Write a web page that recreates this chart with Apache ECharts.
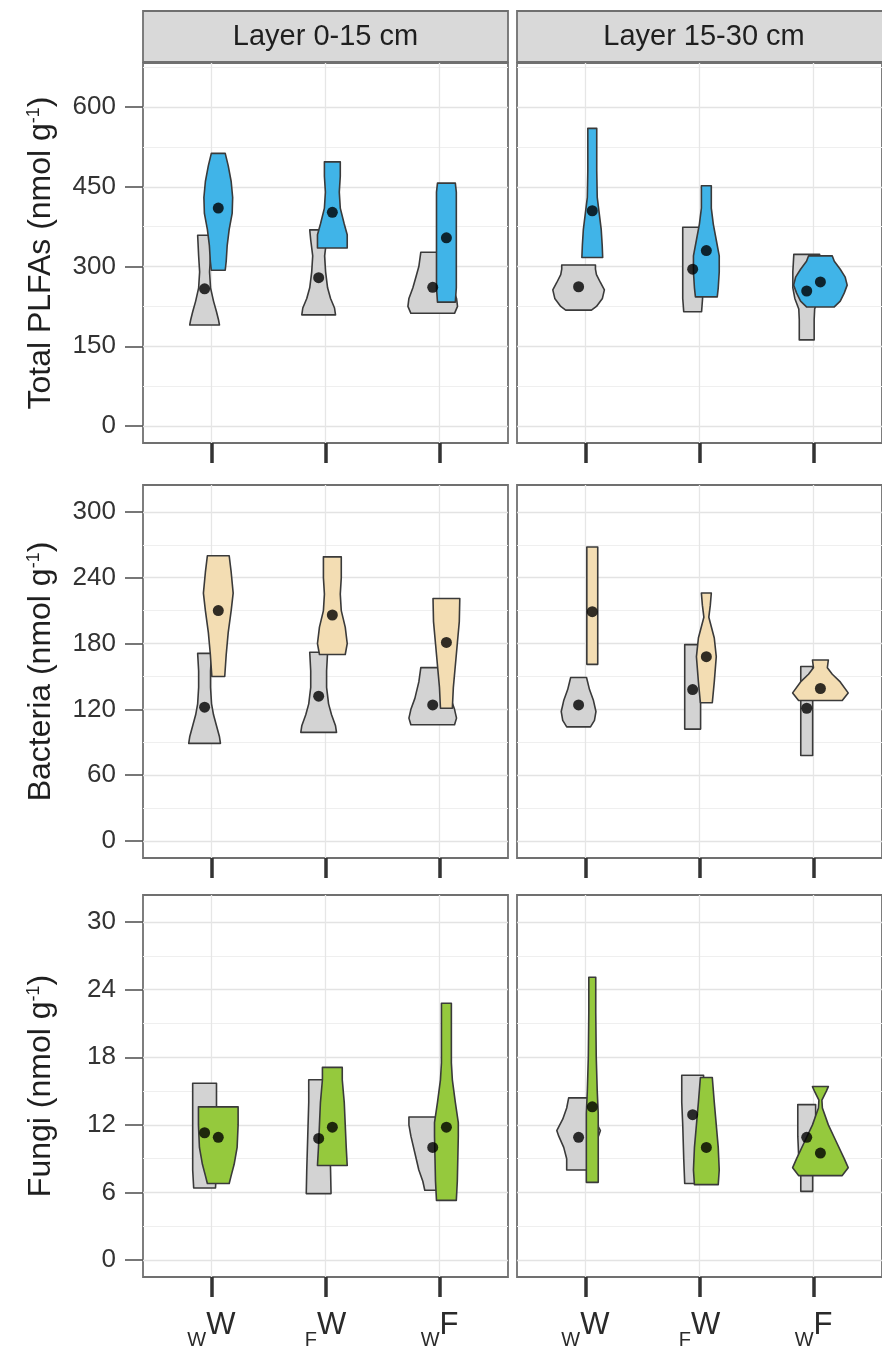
<!DOCTYPE html>
<html><head><meta charset="utf-8">
<script src="https://cdn.jsdelivr.net/npm/echarts@6/dist/echarts.min.js"></script>
<style>html,body{margin:0;padding:0;background:#fff}#c{width:882px;height:1354px}</style>
</head><body><div id="c"></div>
<script>
// ---- categories / labels ----
const catSub = ['W', 'F', 'W'];
const catMain = ['W', 'W', 'F'];
const layers = ['Layer 0-15 cm', 'Layer 15-30 cm'];
const yTitles = ['Total PLFAs (nmol g', 'Bacteria (nmol g', 'Fungi (nmol g'];
const plfaTicks = [0, 150, 300, 450, 600];
const plfaMinor = [75, 225, 375, 525, 675];
const bactTicks = [0, 60, 120, 180, 240, 300];
const bactMinor = [30, 90, 150, 210, 270];
const fungiTicks = [0, 6, 12, 18, 24, 30];
const fungiMinor = [3, 9, 15, 21, 27];

// ---- violin profiles: [value, relative half-width (density)] per category ----
// Total PLFAs, layer 0-15
const plfa015Gray = [
  [[190,15],[200,14],[215,12],[235,9],[260,6],[290,5],[320,6],[359,7]],
  [[209,17],[222,16],[240,12],[260,9],[290,7],[320,6],[350,8],[369,9]],
  [[212,22],[225,25],[240,24],[260,20],[280,17],[300,14],[327,12]]
];
const plfa015Col = [
  [[293,7],[310,8],[340,9],[370,11],[400,14],[430,14.5],[460,13],[490,10],[513,7]],
  [[335,15],[360,15],[380,12],[410,8],[440,7],[470,8],[497,8]],
  [[233,9],[260,10],[300,10],[350,10],[400,10],[440,10],[457,9]]
];
const plfa015GrayMean = [258, 279, 261];
const plfa015ColMean = [410, 402, 354];
// Total PLFAs, layer 15-30
const plfa1530Gray = [
  [[218,13],[225,18],[240,24],[256,26],[270,22],[285,18],[295,17],[303,17]],
  [[215,9],[240,10],[280,10],[320,10],[350,10],[374,10]],
  [[162,7.5],[200,7.5],[220,8],[240,12],[260,14],[290,14],[323,13]]
];
const plfa1530Col = [
  [[317,10.5],[340,10],[370,9],[400,7],[430,5],[480,4.5],[520,4.5],[560,4.5]],
  [[243,11],[260,12],[290,13],[320,13],[350,10],[380,7],[410,5],[452,5]],
  [[224,14],[235,20],[250,24],[265,27],[280,25],[295,20],[310,14],[320,12]]
];
const plfa1530GrayMean = [262, 295, 254];
const plfa1530ColMean = [405, 330, 271];
// Bacteria, layer 0-15
const bact015Gray = [
  [[89,16],[95,15],[105,12],[115,9],[125,7],[140,6],[155,6],[171,7]],
  [[99,18],[105,17],[115,13],[125,10],[140,8],[155,8],[172,9]],
  [[106,22],[112,24],[120,22],[130,18],[145,14],[158,12]]
];
const bact015Col = [
  [[150,6.5],[170,8],[190,10],[210,13],[226,15],[245,13],[260,11]],
  [[170,13],[180,15],[195,13],[210,9],[225,8],[240,9],[259,9]],
  [[121,6],[140,7],[160,9],[180,11],[200,13],[221,13.5]]
];
const bact015GrayMean = [122, 132, 124];
const bact015ColMean = [210, 206, 181];
// Bacteria, layer 15-30
const bact1530Gray = [
  [[104,12],[110,16],[118,17.5],[128,15],[138,11],[149,8]],
  [[102,8],[130,8],[160,8],[179,8]],
  [[78,6],[110,6],[140,6],[159,6]]
];
const bact1530Col = [
  [[161,5.5],[200,5.5],[240,5.5],[268,5.5]],
  [[126,6],[145,8],[168,10],[185,8],[204,2.5],[215,4],[226,5]],
  [[128,22],[135,28],[145,20],[152,12],[158,7],[165,8]]
];
const bact1530GrayMean = [124, 138, 121];
const bact1530ColMean = [209, 168, 139];
// Fungi, layer 0-15
const fungi015Gray = [
  [[6.4,11],[8,12],[12,12],[15.7,12]],
  [[5.9,12.5],[8,12],[11,11],[14,10],[16,10]],
  [[6.2,8],[7,10],[8,14],[9.5,18],[11,22],[12,24],[12.7,24]]
];
const fungi015Col = [
  [[6.8,11],[7.5,13],[8.5,16],[10,19],[12,20],[13.6,20]],
  [[8.4,15],[10,14],[12,13],[14,12],[16,10],[17.1,10]],
  [[5.3,10],[7,11],[9,11.5],[11,12],[12.2,12],[14,9],[16,6],[17.5,5],[20,5],[22.8,5]]
];
const fungi015GrayMean = [11.3, 10.8, 10.0];
const fungi015ColMean = [10.9, 11.8, 11.8];
// Fungi, layer 15-30
const fungi1530Gray = [
  [[8,12],[9,12],[10,15],[11,20],[11.5,22],[12.5,16],[13.5,12],[14.4,10]],
  [[6.8,8],[9,9],[12,10],[14,11],[16.4,11]],
  [[6.1,6],[7.5,6],[9,8],[11,9],[13.8,9]]
];
const fungi1530Col = [
  [[6.9,6],[10,6],[13,6],[15,5],[18,4],[22,3.5],[25.1,3.5]],
  [[6.7,12],[8,13],[10,12],[12,10],[14,8],[16.2,6]],
  [[7.5,22],[8.2,28],[9,24],[10.5,16],[12,8],[13.5,2],[14.2,1.5],[15,6],[15.4,8]]
];
const fungi1530GrayMean = [10.9, 12.9, 10.9];
const fungi1530ColMean = [13.6, 10.0, 9.5];

// ---- layout / style ----
const FONT = 'Liberation Sans, Arial, Helvetica, sans-serif';
const DENS = 115;      // density units per category step
const DODGE = 0.06;
const GRAY = '#d3d3d3';
const rowColors = ['#40b4e8', '#f3ddb3', '#95c93d'];
const colsX = [{left: 143, width: 365}, {left: 517, width: 374}];
const rowsY = [{top: 63, height: 380}, {top: 485, height: 373}, {top: 895, height: 382}];
const yRanges = [[-32, 683], [-15.5, 324.5], [-1.5, 32.4]];
const majorT = [plfaTicks, bactTicks, fungiTicks];
const minorT = [plfaMinor, bactMinor, fungiMinor];
const panels = [
  [[plfa015Gray, plfa015Col, plfa015GrayMean, plfa015ColMean], [plfa1530Gray, plfa1530Col, plfa1530GrayMean, plfa1530ColMean]],
  [[bact015Gray, bact015Col, bact015GrayMean, bact015ColMean], [bact1530Gray, bact1530Col, bact1530GrayMean, bact1530ColMean]],
  [[fungi015Gray, fungi015Col, fungi015GrayMean, fungi015ColMean], [fungi1530Gray, fungi1530Col, fungi1530GrayMean, fungi1530ColMean]]
];

const grid = [], xAxis = [], yAxis = [], series = [];
for (let r = 0; r < 3; r++) {
  for (let c = 0; c < 2; c++) {
    const g = r * 2 + c;
    grid.push({left: colsX[c].left, width: colsX[c].width, top: rowsY[r].top, height: rowsY[r].height,
      show: true, backgroundColor: '#fff', borderColor: '#707070', borderWidth: 1.8});
    xAxis.push({
      gridIndex: g, type: 'value', min: 0.4, max: 3.6, position: 'bottom',
      axisLine: {show: false, onZero: false},
      axisTick: {show: true, inside: false, customValues: [1, 2, 3], length: 20, lineStyle: {color: '#333', width: 3.5}},
      axisLabel: {show: r === 2, customValues: [1, 2, 3], margin: 33,
        formatter: v => '{sub|' + catSub[Math.round(v) - 1] + '}{main|' + catMain[Math.round(v) - 1] + '}',
        rich: {
          main: {fontSize: 31, fontFamily: FONT, color: '#2a2a2a', lineHeight: 31, verticalAlign: 'top'},
          sub: {fontSize: 20, fontFamily: FONT, color: '#2a2a2a', lineHeight: 20, padding: [20, 0, 0, 0], verticalAlign: 'top'}
        }},
      splitLine: {show: true, lineStyle: {color: '#e6e6e6', width: 1.3}}
    });
    yAxis.push({
      gridIndex: g, type: 'value', min: yRanges[r][0], max: yRanges[r][1],
      axisLine: {show: false, onZero: false},
      axisTick: {show: c === 0, customValues: majorT[r], length: 18, lineStyle: {color: '#555', width: 1.6}},
      axisLabel: {show: c === 0, customValues: majorT[r], margin: 27, fontSize: 26, fontFamily: FONT, color: '#333'},
      splitLine: {show: true, lineStyle: {color: '#e3e3e3', width: 1.4}},
      name: c === 0 ? '{a|' + yTitles[r] + '}{s|-1}{a|)}' : '',
      nameLocation: 'middle', nameRotate: 90, nameGap: 86,
      nameTextStyle: {rich: {
        a: {fontSize: 32, fontFamily: FONT, color: '#1f1f1f'},
        s: {fontSize: 18, fontFamily: FONT, color: '#1f1f1f', verticalAlign: 'top'}
      }}
    });
  }
}
// minor horizontal grid lines (hidden axes)
for (let r = 0; r < 3; r++) {
  for (let c = 0; c < 2; c++) {
    const g = r * 2 + c;
    yAxis.push({
      gridIndex: g, type: 'value', min: yRanges[r][0], max: yRanges[r][1], position: 'left',
      axisLine: {show: false, onZero: false}, axisLabel: {show: false},
      axisTick: {show: false, customValues: minorT[r]},
      splitLine: {show: true, lineStyle: {color: '#efefef', width: 1.2}}
    });
  }
}

function violin(g, profiles, fill, offset) {
  return {
    type: 'custom', xAxisIndex: g, yAxisIndex: g, z: 3,
    data: profiles.map((p, i) => [i + 1]),
    renderItem: (params, api) => {
      const cat = api.value(0);
      const prof = profiles[params.dataIndex];
      const unit = api.size([1, 0])[0];
      const right = [], left = [];
      prof.forEach(([v, w]) => {
        const p = api.coord([cat + offset, v]);
        right.push([p[0] + w / DENS * unit, p[1]]);
        left.push([p[0] - w / DENS * unit, p[1]]);
      });
      return {type: 'polygon', shape: {points: right.concat(left.reverse())},
        style: {fill: fill, stroke: '#3a3a3a', lineWidth: 1.6, lineJoin: 'round'}};
    }
  };
}
function means(g, vals, offset) {
  return {type: 'scatter', xAxisIndex: g, yAxisIndex: g, z: 4, symbolSize: 11, silent: true,
    itemStyle: {color: '#000'}, data: vals.map((v, i) => [i + 1 + offset, v])};
}
for (let r = 0; r < 3; r++) {
  for (let c = 0; c < 2; c++) {
    const g = r * 2 + c;
    const [pg, pc, mg, mc] = panels[r][c];
    series.push(violin(g, pg, GRAY, -DODGE));
    series.push(violin(g, pc, rowColors[r], DODGE));
    series.push(means(g, mg, -DODGE));
    series.push(means(g, mc, DODGE));
  }
}

const graphic = [];
layers.forEach((t, c) => {
  graphic.push({type: 'rect', shape: {x: colsX[c].left, y: 11, width: colsX[c].width, height: 51},
    style: {fill: '#d9d9d9', stroke: '#707070', lineWidth: 1.8}, z: 10});
  graphic.push({type: 'text', x: colsX[c].left + (c === 0 ? colsX[c].width / 2 : 187), y: 37,
    style: {text: t, font: '29px ' + FONT, fill: '#1f1f1f', align: 'center', verticalAlign: 'middle'}, z: 11});
});

const chart = echarts.init(document.getElementById('c'), null, {renderer: 'canvas'});
chart.setOption({animation: false, backgroundColor: '#fff', grid, xAxis, yAxis, series, graphic});
</script></body></html>
